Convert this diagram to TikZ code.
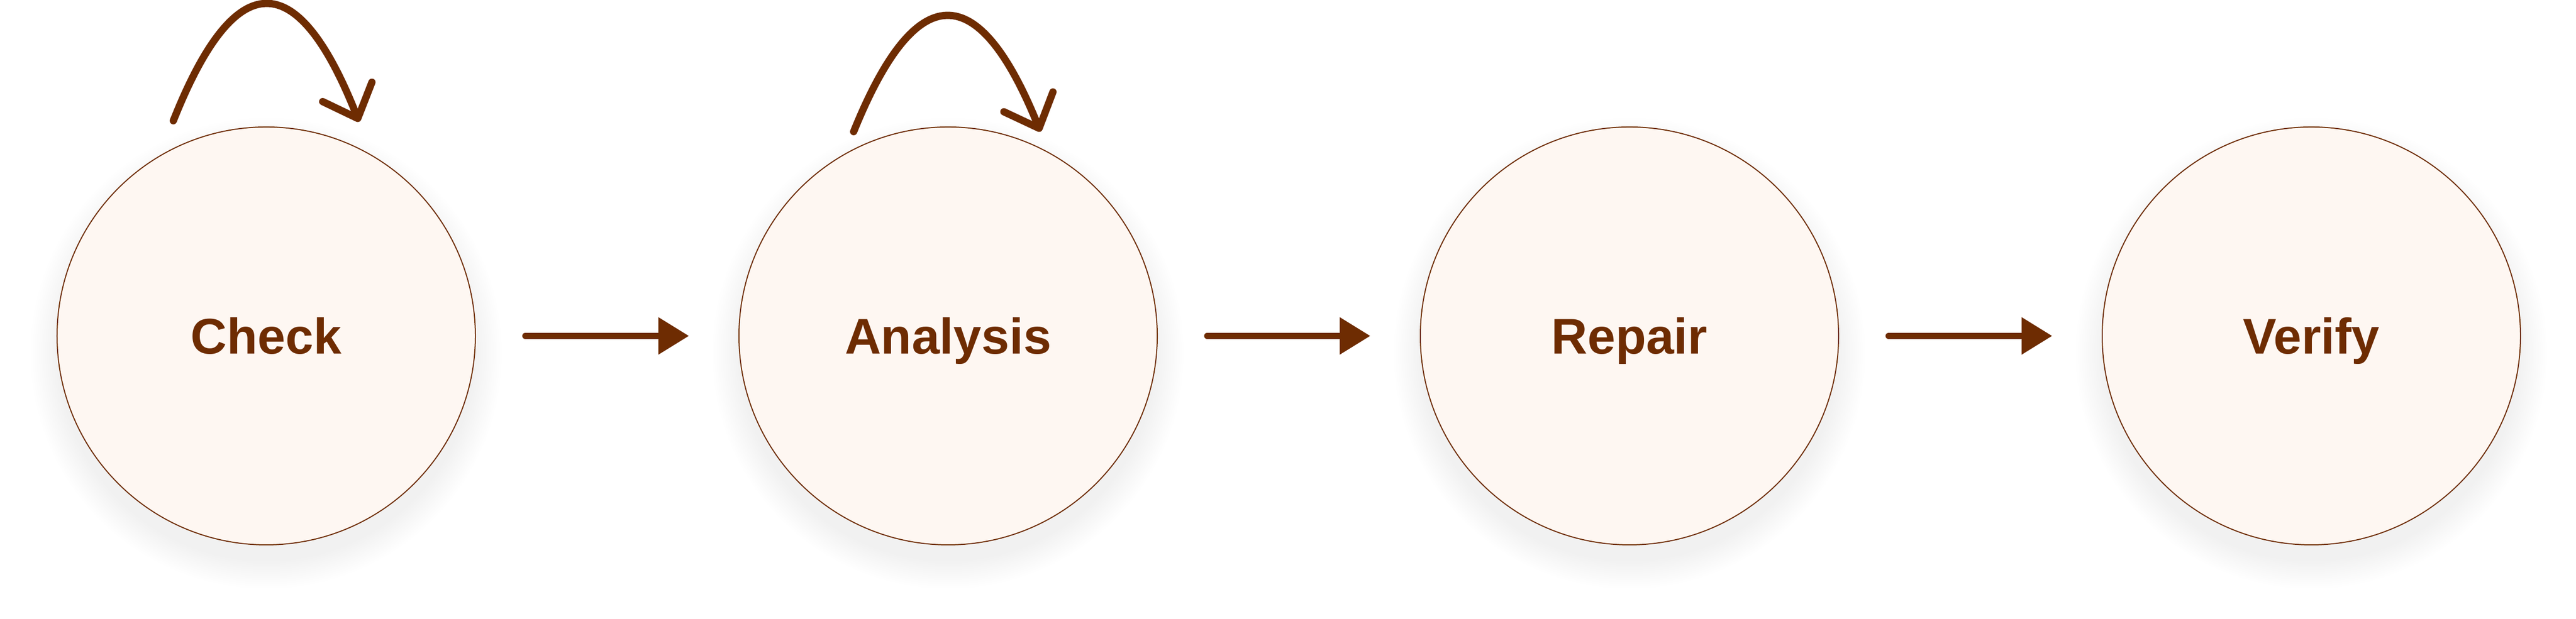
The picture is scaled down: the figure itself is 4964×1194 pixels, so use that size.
\documentclass[tikz,border=0pt]{standalone}
\usepackage{fontspec}
\setmainfont{Liberation Sans}
\usetikzlibrary{arrows.meta,backgrounds}
\definecolor{brn}{HTML}{6E2C02}
\definecolor{cream}{HTML}{FEF7F2}
\begin{document}
\begin{tikzpicture}[x=0.15pt,y=0.15pt,
  stage/.style={circle, draw=brn, line width=0.3pt, fill=cream, minimum size=120.9pt,
    inner sep=0pt, font=\bfseries\fontsize{14.5pt}{17pt}\selectfont, text=brn,
    text height=10.4pt, text depth=0pt},
  flow/.style={draw=brn, line width=1.8pt, line cap=round,
    -{Triangle[length=8.85pt,width=10.35pt]}, shorten <=14.3pt, shorten >=14.3pt},
  selfloop/.style={draw=brn, line width=2.1pt, line cap=round,
    -{Straight Barb[length=8.25pt,width=15.3pt,round]}}
]
\useasboundingbox (0,0) rectangle (4964,1194);
\node[stage] (check)    at (513,546)  {Check};
\node[stage] (analysis) at (1827,546) {Analysis};
\node[stage] (repair)   at (3140,546) {Repair};
\node[stage] (verify)   at (4454,546) {Verify};

\draw[flow] (check) -- (analysis);
\draw[flow] (analysis) -- (repair);
\draw[flow] (repair) -- (verify);

\coordinate (cls) at ([shift={(-179,415)}]check.center);
\coordinate (cle) at ([shift={(179,413)}]check.center);
\draw[selfloop] (cls) .. controls ([shift={(-60,715)}]check.center) and ([shift={(60,715)}]check.center) .. (cle);

\coordinate (als) at ([shift={(-182,394)}]analysis.center);
\coordinate (ale) at ([shift={(178,394)}]analysis.center);
\draw[selfloop] (als) .. controls ([shift={(-62,691)}]analysis.center) and ([shift={(58,691)}]analysis.center) .. (ale);

\begin{scope}[on background layer]
  \fill[white] (0,0) rectangle (4964,1194);
  \foreach \n in {check,analysis,repair,verify}{
    \foreach \k in {1,...,14}{
      \fill[black,opacity=0.0035] ([yshift=-5pt]\n.center) circle ({398+4*\k});
    }
  }
\end{scope}
\end{tikzpicture}
\end{document}
